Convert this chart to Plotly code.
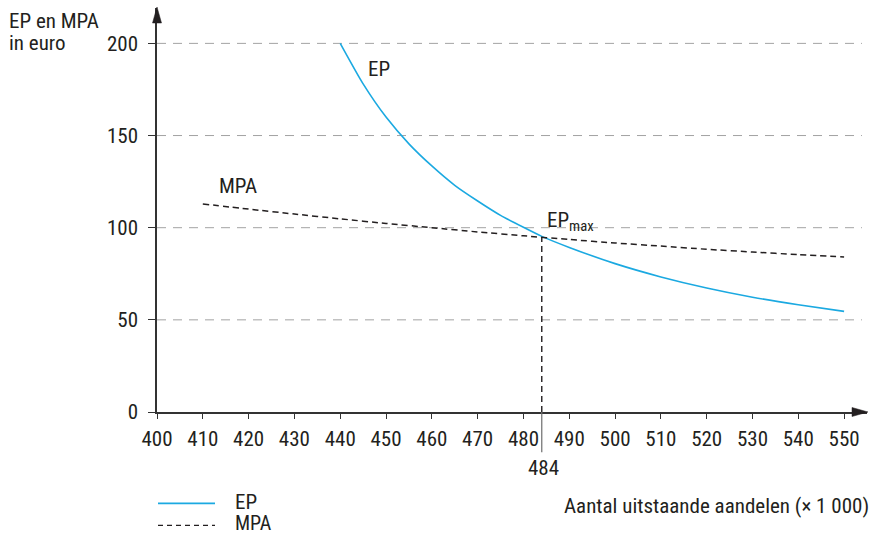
import plotly.graph_objects as go

# ---- data ----
ep_x = [440, 445, 450, 455, 460, 465, 470, 475, 480, 484, 490, 500, 510, 520, 530, 540, 550]
ep_y = [200, 178, 160, 145.5, 133.5, 123, 114.5, 106.7, 100.2, 95.3, 89.3, 80.5, 73.3, 67.3, 62.3, 58.2, 54.6]

mpa_x = [410, 420, 430, 440, 450, 460, 470, 480, 490, 500, 510, 520, 530, 540, 550]
mpa_y = [112.9, 110.1, 107.4, 104.8, 102.3, 100.0, 97.7, 95.6, 93.6, 91.7, 90.0, 88.3, 86.8, 85.4, 84.1]

ep_max_x = 484
ep_max_y = 95

x_ticks = list(range(400, 551, 10))
y_ticks = [0, 50, 100, 150, 200]
grid_y = [50, 100, 150, 200]

# ---- layout geometry ----
W, H = 873, 534
L, R, T, B = 157, 867, 8, 411.7
X_RANGE = [400, 555.0]
Y_RANGE = [0, 219.2]
GRID_END = 553.9

FONT = "Liberation Sans Narrow, Arial Narrow, Roboto Condensed, Roboto, sans-serif"
TXT = "#231f20"
BLUE = "#1ba9e1"


def px_x(p):
    return (p - L) / (R - L)


def px_y(p):
    return (B - p) / (B - T)


fig = go.Figure()

fig.add_trace(go.Scatter(x=ep_x, y=ep_y, mode="lines", name="EP",
                         line=dict(color=BLUE, width=1.6, shape="spline", smoothing=0.6),
                         showlegend=False, hoverinfo="skip"))
fig.add_trace(go.Scatter(x=mpa_x, y=mpa_y, mode="lines", name="MPA",
                         line=dict(color=TXT, width=1.5, dash="6px,4px", shape="spline", smoothing=0.6),
                         showlegend=False, hoverinfo="skip"))

shapes = []
for gy in grid_y:
    shapes.append(dict(type="line", xref="x", yref="y", x0=X_RANGE[0], x1=GRID_END, y0=gy, y1=gy,
                       line=dict(color="#a3a3a3", width=1, dash="9px,7px"), layer="below"))
# vertical line at EP max
shapes.append(dict(type="line", xref="x", yref="y", x0=ep_max_x, x1=ep_max_x, y0=0, y1=ep_max_y,
                   line=dict(color=TXT, width=1.4, dash="6px,4px")))
shapes.append(dict(type="line", xref="x", yref="paper", x0=ep_max_x, x1=ep_max_x, y0=0, y1=px_y(452),
                   line=dict(color="#6d6d6d", width=1.2)))
# axis arrow heads
shapes.append(dict(type="path", xref="paper", yref="paper",
                   path=f"M {px_x(152.5)},{px_y(23)} L {px_x(157)},{px_y(7)} L {px_x(161.5)},{px_y(23)} Z",
                   fillcolor=TXT, line=dict(color=TXT, width=0.5)))
shapes.append(dict(type="path", xref="paper", yref="paper",
                   path=f"M {px_x(852)},{px_y(407.2)} L {px_x(868)},{px_y(411.7)} L {px_x(852)},{px_y(416.2)} Z",
                   fillcolor=TXT, line=dict(color=TXT, width=0.5)))
# legend samples
shapes.append(dict(type="line", xref="paper", yref="paper", x0=px_x(158), x1=px_x(215),
                   y0=px_y(503), y1=px_y(503), line=dict(color=BLUE, width=1.6)))
shapes.append(dict(type="line", xref="paper", yref="paper", x0=px_x(158), x1=px_x(215),
                   y0=px_y(525), y1=px_y(525), line=dict(color=TXT, width=1.3, dash="5px,4px")))

ann = []


def text(s, x, y, xa="left", ya="middle", size=21):
    ann.append(dict(text=s, xref="paper", yref="paper", x=px_x(x), y=px_y(y), xanchor=xa, yanchor=ya,
                    showarrow=False, font=dict(family=FONT, size=size, color=TXT)))


text("EP en MPA", 7, 21)
text("in euro", 7, 43)
text("EP", 366, 69)
text("MPA", 217, 186)
text("EP<sub>max</sub>", 545, 221)
text("484", 543, 468, xa="center")
text("Aantal uitstaande aandelen (× 1 000)", 871, 506, xa="right")
text("EP", 233, 502)
text("MPA", 233, 523, size=20)

fig.update_layout(
    width=W, height=H,
    margin=dict(l=L, r=W - R, t=T, b=H - B, pad=0),
    paper_bgcolor="white", plot_bgcolor="white",
    font=dict(family=FONT, size=21, color=TXT),
    shapes=shapes, annotations=ann,
    xaxis=dict(range=X_RANGE, tickvals=x_ticks, ticktext=[str(v) for v in x_ticks],
               showgrid=False, zeroline=False, showline=True, linecolor="#333", linewidth=1.5,
               ticks="outside", ticklen=5, tickcolor="#333", tickwidth=1.2,
               tickfont=dict(family=FONT, size=21, color=TXT), ticklabelstandoff=2),
    yaxis=dict(range=Y_RANGE, tickvals=y_ticks, ticktext=[str(v) for v in y_ticks],
               showgrid=False, zeroline=False, showline=True, linecolor="#333", linewidth=1.5,
               ticks="outside", ticklen=7, tickcolor="#333", tickwidth=1.2,
               tickfont=dict(family=FONT, size=21, color=TXT), ticklabelstandoff=6),
)

fig.write_html("out.html", config={"displayModeBar": False},
               post_script="document.body.style.margin='0px';document.body.style.overflow='hidden';")
